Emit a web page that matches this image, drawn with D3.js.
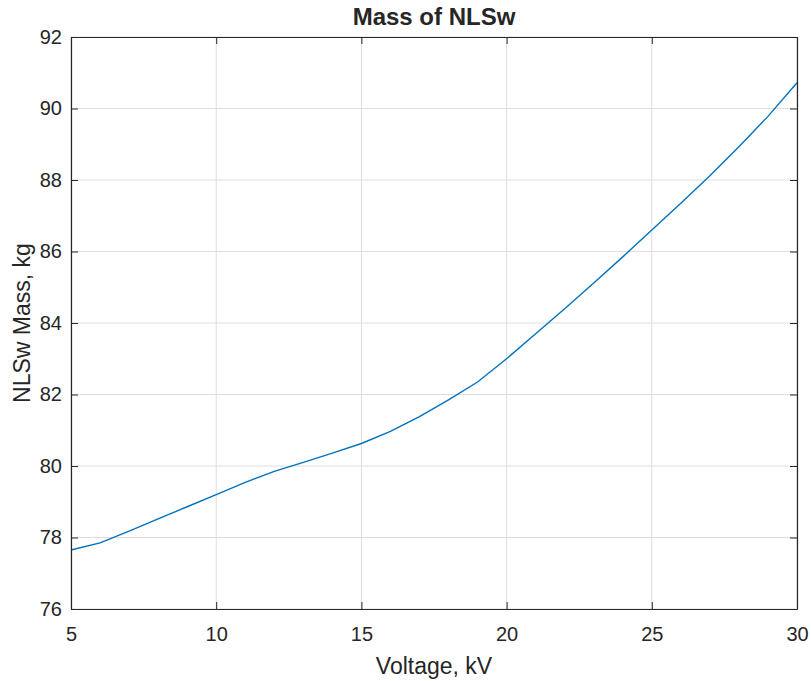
<!DOCTYPE html>
<html>
<head>
<meta charset="utf-8">
<script src="https://cdn.jsdelivr.net/npm/d3@7"></script>
<style>
  body { margin: 0; background: #fff; }
  text { font-family: "Liberation Sans", Arial, sans-serif; fill: #262626; }
</style>
</head>
<body>
<div id="chart"></div>
<script>
// values
var voltage = [5, 6, 7, 8, 9, 10, 11, 12, 13, 14, 15, 16, 17, 18, 19, 20, 21, 22, 23, 24, 25, 26, 27, 28, 29, 30];
var mass = [77.65, 77.85, 78.18, 78.52, 78.86, 79.2, 79.54, 79.85, 80.1, 80.36, 80.63, 80.97, 81.38, 81.85, 82.35, 83.0, 83.7, 84.4, 85.12, 85.85, 86.6, 87.35, 88.12, 88.93, 89.78, 90.72];
var xTicks = [5, 10, 15, 20, 25, 30];
var yTicks = [76, 78, 80, 82, 84, 86, 88, 90, 92];

var svgWidth = 811;
var svgHeight = 681;
var margin = { top: 37, right: 14, bottom: 72, left: 71 };
var width = svgWidth - margin.left - margin.right;
var height = svgHeight - margin.top - margin.bottom;

var svg = d3.select("#chart")
  .append("svg")
  .attr("width", svgWidth)
  .attr("height", svgHeight);

var chartGroup = svg.append("g")
  .attr("transform", `translate(${margin.left}, ${margin.top})`);

var xScale = d3.scaleLinear().domain([5, 30]).range([0, width]);
var yScale = d3.scaleLinear().domain([76, 92]).range([height, 0]);

// grid
chartGroup.append("g")
  .selectAll("line.vgrid")
  .data(xTicks)
  .enter()
  .append("line")
  .attr("x1", d => xScale(d)).attr("x2", d => xScale(d))
  .attr("y1", 0).attr("y2", height)
  .attr("stroke", "#dedede");
chartGroup.append("g")
  .selectAll("line.hgrid")
  .data(yTicks)
  .enter()
  .append("line")
  .attr("x1", 0).attr("x2", width)
  .attr("y1", d => yScale(d)).attr("y2", d => yScale(d))
  .attr("stroke", "#dedede");

// line
var line = d3.line()
  .x((d, i) => xScale(voltage[i]))
  .y(d => yScale(d));
chartGroup.append("path")
  .datum(mass)
  .attr("d", line)
  .attr("fill", "none")
  .attr("stroke", "#0072BD")
  .attr("stroke-width", 1.4);

// axes (ticks inward on all sides)
function styleAxis(g) {
  g.selectAll("path").attr("stroke", "#262626");
  g.selectAll("line").attr("stroke", "#262626");
  g.selectAll("text").attr("font-size", "20px").attr("fill", "#262626");
}
var bottomAxis = d3.axisBottom(xScale).tickValues(xTicks).tickSizeInner(-7).tickSizeOuter(0).tickPadding(18);
var leftAxis = d3.axisLeft(yScale).tickValues(yTicks).tickSizeInner(-7).tickSizeOuter(0).tickPadding(9);
var topAxis = d3.axisTop(xScale).tickValues(xTicks).tickSizeInner(-7).tickSizeOuter(0).tickFormat("");
var rightAxis = d3.axisRight(yScale).tickValues(yTicks).tickSizeInner(-7).tickSizeOuter(0).tickFormat("");

chartGroup.append("g").attr("transform", `translate(0, ${height})`).call(bottomAxis).call(styleAxis);
chartGroup.append("g").call(leftAxis).call(styleAxis);
chartGroup.append("g").call(topAxis).call(styleAxis);
chartGroup.append("g").attr("transform", `translate(${width}, 0)`).call(rightAxis).call(styleAxis);
chartGroup.selectAll(".domain").attr("stroke-width", 1.2);
chartGroup.selectAll(".tick text").attr("font-family", null);

// labels
svg.append("text")
  .attr("x", margin.left + width / 2)
  .attr("y", 25)
  .attr("text-anchor", "middle")
  .attr("font-size", "24px")
  .attr("font-weight", "bold")
  .text("Mass of NLSw");

svg.append("text")
  .attr("x", margin.left + width / 2)
  .attr("y", 674)
  .attr("text-anchor", "middle")
  .attr("font-size", "23px")
  .text("Voltage, kV");

svg.append("text")
  .attr("transform", `translate(30, ${margin.top + height / 2}) rotate(-90)`)
  .attr("text-anchor", "middle")
  .attr("font-size", "23px")
  .text("NLSw Mass, kg");
</script>
</body>
</html>
